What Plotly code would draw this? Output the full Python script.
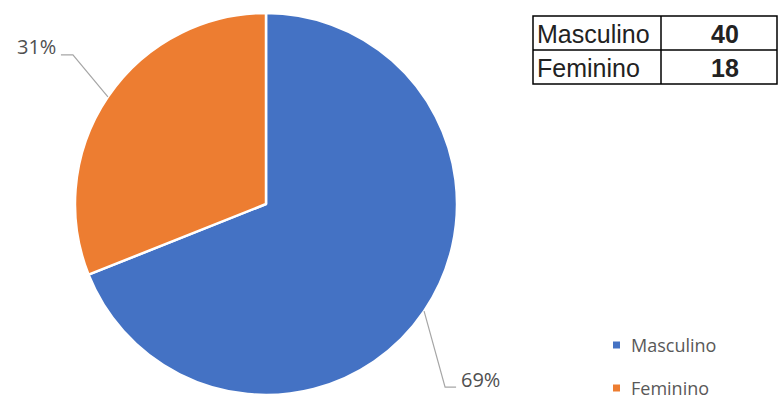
import math
import plotly.graph_objects as go

# ---- data ----
categories = ["Masculino", "Feminino"]
values = [40, 18]
colors = ["#4472C4", "#ED7D31"]

W, H = 778, 400
CX, CY, R = 266, 204, 191  # pie geometry in pixels

def px(x):
    return x / W

def py(y):
    return 1 - y / H

fig = go.Figure()
fig.add_trace(go.Pie(
    labels=categories, values=values, sort=False, direction="clockwise", rotation=0,
    marker=dict(colors=colors, line=dict(color="white", width=2.5)),
    textinfo="none", hoverinfo="label+value+percent", showlegend=False,
    domain=dict(x=[px(CX - R), px(CX + R)], y=[py(CY + R), py(CY - R)]),
))

shapes = []
annotations = []

# ---- outside labels with leader lines (angles computed from data) ----
total = sum(values)
label_style = [dict(dx=21, dy=76, tail=11), dict(dx=-35, dy=-42, tail=-12)]
cum = 0
for v, st in zip(values, label_style):
    mid = (cum + v / 2) / total * 2 * math.pi
    cum += v
    ex = CX + R * math.sin(mid)
    ey = CY - R * math.cos(mid)
    bx, by = ex + st["dx"], ey + st["dy"]
    tx = bx + st["tail"]
    shapes.append(dict(
        type="path", xref="paper", yref="paper",
        path=f"M {px(ex)},{py(ey)} L {px(bx)},{py(by)} L {px(tx)},{py(by)}",
        line=dict(color="#A6A6A6", width=1.2),
    ))
    pct = f"{round(v / total * 100)}%"
    annotations.append(dict(
        x=px(tx + (3 if st["tail"] > 0 else -3)), y=py(by - 8), xref="paper", yref="paper",
        text=pct, showarrow=False,
        xanchor="left" if st["tail"] > 0 else "right", yanchor="middle",
        font=dict(family="Open Sans", size=20, color="#505050"),
    ))

# ---- table (top right) ----
TX0, TX1, TX2 = 533, 661, 777
TY = [16, 50, 84]
shapes.append(dict(type="rect", xref="paper", yref="paper",
                   x0=px(TX0), x1=px(TX2), y0=py(TY[0]), y1=py(TY[-1]),
                   line=dict(color="black", width=1.5)))
shapes.append(dict(type="line", xref="paper", yref="paper",
                   x0=px(TX0), x1=px(TX2), y0=py(TY[1]), y1=py(TY[1]),
                   line=dict(color="black", width=1.5)))
shapes.append(dict(type="line", xref="paper", yref="paper",
                   x0=px(TX1), x1=px(TX1), y0=py(TY[0]), y1=py(TY[-1]),
                   line=dict(color="black", width=1.5)))
for i, (c, v) in enumerate(zip(categories, values)):
    yc = (TY[i] + TY[i + 1]) / 2 + 1
    annotations.append(dict(x=px(TX0 + 2), y=py(yc), xref="paper", yref="paper",
                            text=c, showarrow=False, xanchor="left", yanchor="middle",
                            font=dict(family="Liberation Sans", size=25, color="#222")))
    annotations.append(dict(x=px(725), y=py(yc), xref="paper", yref="paper",
                            text=f"<b>{v}</b>", showarrow=False, xanchor="center", yanchor="middle",
                            font=dict(family="Liberation Sans", size=25, color="#222")))

# ---- legend (bottom right) ----
LEG_Y = [345, 388]
for c, col, ly in zip(categories, colors, LEG_Y):
    shapes.append(dict(type="rect", xref="paper", yref="paper",
                       x0=px(613), x1=px(620), y0=py(ly + 3.5), y1=py(ly - 3.5),
                       fillcolor=col, line=dict(width=0)))
    annotations.append(dict(x=px(629), y=py(ly), xref="paper", yref="paper",
                            text=c, showarrow=False, xanchor="left", yanchor="middle",
                            font=dict(family="Open Sans", size=18, color="#595959")))

fig.update_layout(
    width=W, height=H, margin=dict(l=0, r=0, t=0, b=0),
    paper_bgcolor="white", plot_bgcolor="white",
    shapes=shapes, annotations=annotations,
)
fig.write_html("out.html")
